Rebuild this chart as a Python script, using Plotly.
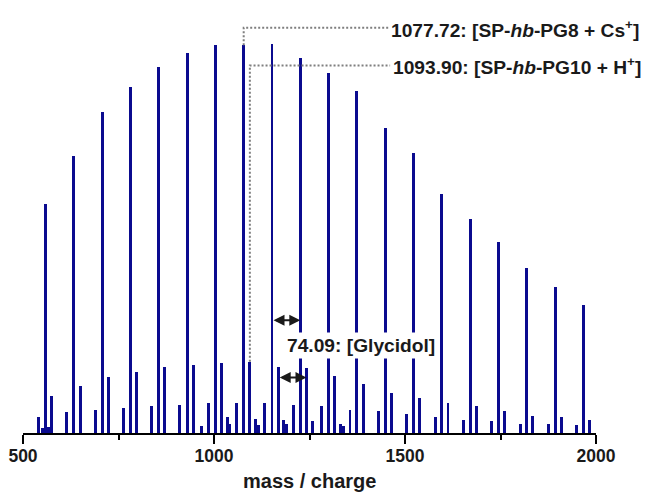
import plotly.graph_objects as go

# --- data (m/z, relative intensity %) ---
cs_mz = [559.09, 633.18, 707.27, 781.36, 855.45, 929.54, 1003.63, 1077.72, 1151.81, 1225.90,
         1299.99, 1374.08, 1448.17, 1522.26, 1596.35, 1670.44, 1744.53, 1818.62, 1892.71, 1966.80]
cs_int = [58.9, 71.2, 82.5, 88.9, 94.1, 97.7, 99.7, 99.7, 100.0, 96.4,
          92.5, 87.9, 78.4, 72.0, 61.4, 55.0, 49.1, 42.4, 37.5, 32.9]

h_mz = [575.27, 649.36, 723.45, 797.54, 871.63, 945.72, 1019.81, 1093.90, 1167.99, 1242.08,
        1316.17, 1390.26, 1464.35, 1538.44, 1612.53, 1686.62, 1760.71, 1834.80, 1908.89, 1982.98]
h_int = [9.5, 12.2, 14.4, 15.7, 17.0, 17.5, 18.0, 18.3, 17.0, 16.7,
         14.7, 12.6, 10.4, 9.1, 7.7, 6.9, 5.7, 4.4, 4.1, 3.3]

k_mz = [539.3, 614.5, 689.5, 762.0, 837.3, 910.6, 984.8, 1059.2, 1133.4, 1207.5,
        1282.0, 1356.0, 1430.3, 1504.7, 1578.9, 1653.0, 1727.5, 1801.7, 1875.8, 1950.0]
k_int = [4.0, 5.4, 6.0, 6.4, 7.0, 7.3, 7.8, 7.6, 7.8, 7.1,
         6.9, 6.0, 5.6, 4.8, 4.1, 3.4, 3.1, 2.4, 2.4, 2.0]

minor_mz = [549.8, 565.5, 967.5, 1034.6, 1039.8, 1109.0, 1115.8, 1183.2, 1190.2, 1257.3, 1331.8, 1338.6]
minor_int = [1.4, 1.5, 1.9, 4.0, 2.2, 3.7, 2.1, 3.3, 2.2, 3.0, 2.4, 1.8]

x_ticks = [500, 1000, 1500, 2000]
x_title = "<b>mass / charge</b>"
label_cs = "<b>1077.72: [SP-<i>hb</i>-PG8 + Cs<sup>+</sup>]</b>"
label_h = "<b>1093.90: [SP-<i>hb</i>-PG10 + H<sup>+</sup>]</b>"
label_gly = "<b>74.09: [Glycidol]</b>"

BAR = "#0b0b8f"
TXT = "#1a1a1a"
FONT = "Liberation Sans, Arial, sans-serif"

fig = go.Figure()
for mz, it in [(minor_mz, minor_int), (k_mz, k_int), (h_mz, h_int), (cs_mz, cs_int)]:
    fig.add_trace(go.Bar(x=mz, y=it, width=7.8, marker=dict(color=BAR, line=dict(width=0)),
                         showlegend=False, hoverinfo="x+y"))

# dotted leader lines
x_text = 1461
y1 = 104.2
y2 = 94.5
fig.add_trace(go.Scatter(x=[cs_mz[7], cs_mz[7], x_text], y=[cs_int[7], y1, y1], mode="lines",
                         line=dict(color="#7f7f7f", width=2, dash="2px,2px"), showlegend=False))
fig.add_trace(go.Scatter(x=[h_mz[7], h_mz[7], x_text], y=[h_int[7], y2, y2], mode="lines",
                         line=dict(color="#7f7f7f", width=2, dash="2px,2px"), showlegend=False))

AFS = 19.2
ann = [
    dict(x=x_text, y=y1 - 0.2, text=label_cs, xanchor="left", yanchor="middle", showarrow=False,
         font=dict(size=AFS, color=TXT, family=FONT), xshift=-1),
    dict(x=x_text, y=y2 - 0.2, text=label_h, xanchor="left", yanchor="middle", showarrow=False,
         font=dict(size=AFS, color=TXT, family=FONT), xshift=1),
    dict(x=1190, y=22.4, text=label_gly, xanchor="left", yanchor="middle", showarrow=False,
         bgcolor="white", borderpad=2, xshift=-3, font=dict(size=AFS, color=TXT, family=FONT)),
    dict(x=cs_mz[9], y=29.0, ax=cs_mz[8], ay=29.0, xref="x", yref="y", axref="x", ayref="y",
         text="", showarrow=True, arrowhead=2, arrowside="end+start", arrowwidth=2,
         arrowsize=1.1, arrowcolor=TXT, standoff=0, startstandoff=0),
    dict(x=h_mz[9], y=14.3, ax=h_mz[8], ay=14.3, xref="x", yref="y", axref="x", ayref="y",
         text="", showarrow=True, arrowhead=2, arrowside="end+start", arrowwidth=2,
         arrowsize=1.1, arrowcolor=TXT, standoff=0, startstandoff=0),
    # x-axis title
    dict(x=0.5, y=-0.117, xref="paper", yref="paper", text=x_title, showarrow=False,
         xanchor="center", yanchor="middle", font=dict(size=20, color=TXT, family=FONT)),
]

# page body has an 8px margin; the figure starts at (8, 8)
fig.update_layout(
    width=644, height=484,
    margin=dict(l=15, r=56, t=12, b=59, autoexpand=False),
    paper_bgcolor="white", plot_bgcolor="white",
    barmode="overlay", bargap=0,
    annotations=ann,
    font=dict(family=FONT, color=TXT),
    xaxis=dict(range=[500, 2000], tickvals=x_ticks, ticktext=[f"<b>{v}</b>" for v in x_ticks],
               automargin=False, ticklabeloverflow="allow",
               showgrid=False, zeroline=False, showline=True, linewidth=2, linecolor="black",
               ticks="outside", ticklen=9, tickwidth=2, tickcolor="black",
               ticklabelstandoff=-3,
               tickfont=dict(size=17.5, color=TXT, family=FONT),
               minor=dict(ticks="outside", ticklen=5, tickwidth=2, tickcolor="black",
                          tick0=500, dtick=250)),
    yaxis=dict(range=[0, 106.2], visible=False, automargin=False),
)

fig.write_html("out.html")
